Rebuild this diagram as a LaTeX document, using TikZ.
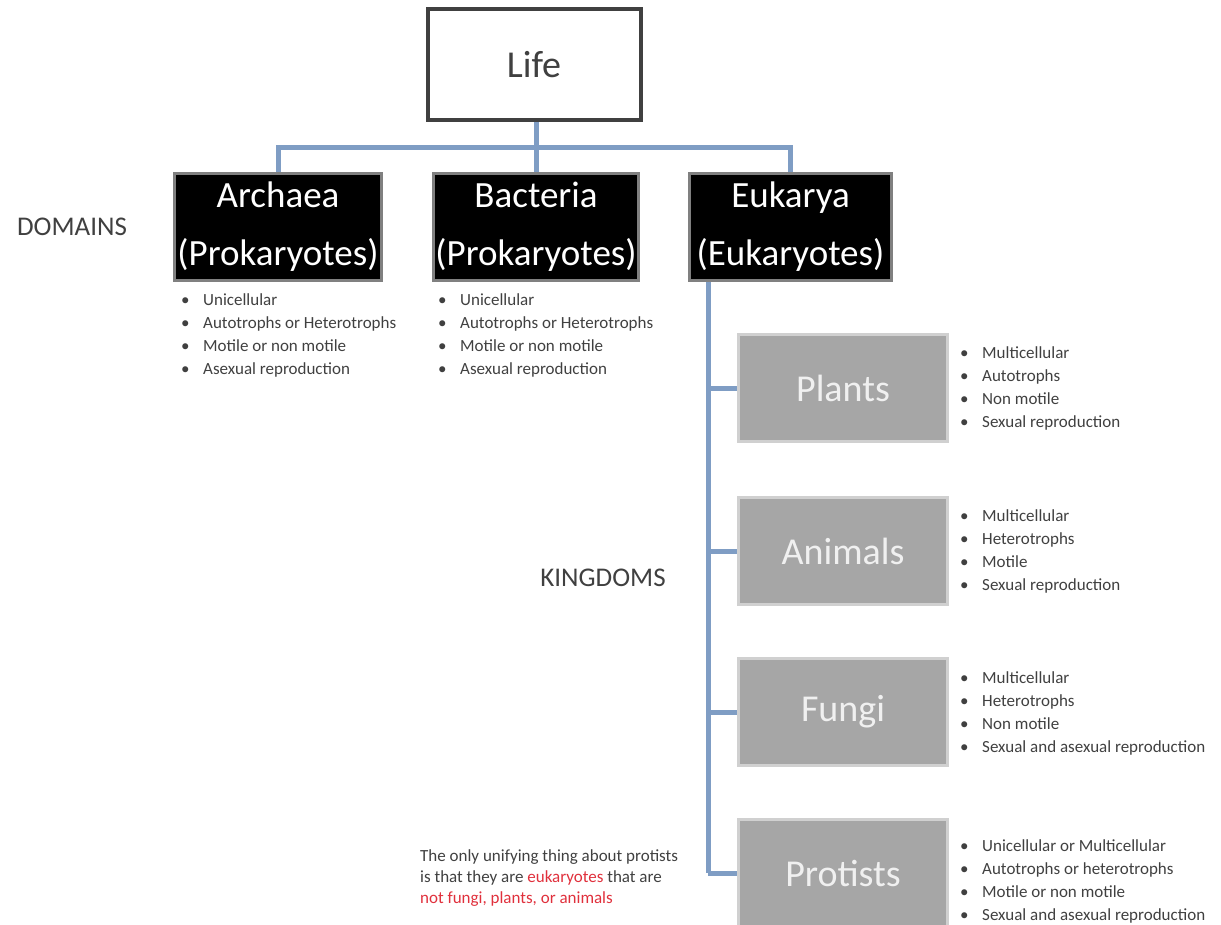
\documentclass[tikz,border=0pt]{standalone}
\usepackage{fontspec}
\setmainfont{Carlito}
\definecolor{conn}{HTML}{7F9DC4}
\definecolor{lifeborder}{HTML}{404040}
\definecolor{kfill}{HTML}{A6A6A6}
\definecolor{kborder}{HTML}{D0D0D0}
\definecolor{dgray}{HTML}{404040}
\definecolor{notered}{HTML}{E0303C}
\newcommand{\bl}{\makebox[22pt][l]{\textbullet}}
\tikzset{
  lifebox/.style={draw=lifeborder, line width=4pt, fill=white, minimum width=213pt, minimum height=111pt, inner sep=0pt, font=\fontsize{38}{40}\selectfont, text=dgray},
  domainbox/.style={draw=gray, line width=3pt, fill=black, text=white, inner sep=0pt, align=center, font=\fontsize{37}{58}\selectfont, minimum height=107pt},
  kingbox/.style={draw=kborder, line width=3pt, fill=kfill, text=white!94!black, inner sep=0pt, minimum width=209pt, minimum height=107pt, font=\fontsize{38}{40}\selectfont},
  connector/.style={draw=conn, line width=5pt},
  bullets/.style={anchor=north west, align=left, inner sep=0pt, text=dgray, font=\fontsize{17}{23}\selectfont},
  tag/.style={inner sep=0pt, text=dgray, font=\fontsize{27}{29}\selectfont},
  note/.style={anchor=north west, align=left, inner sep=0pt, text=dgray, font=\fontsize{17}{21}\selectfont}
}
\begin{document}
\begin{tikzpicture}[x=1pt,y=-1pt]
\useasboundingbox (0,0) rectangle (1221,924);
% nodes
\node[lifebox] (life) at (534,64.5) {Life};
\node[domainbox, minimum width=207pt] (archaea) at (278,227) {Archaea\\(Prokaryotes)};
\node[domainbox, minimum width=205pt] (bacteria) at (536,227) {Bacteria\\(Prokaryotes)};
\node[domainbox, minimum width=202pt] (eukarya) at (790.5,227) {Eukarya\\(Eukaryotes)};
\node[kingbox] (plants) at (843,388) {Plants};
\node[kingbox] (animals) at (843,551) {Animals};
\node[kingbox] (fungi) at (843,712) {Fungi};
\node[kingbox] (protists) at (843,873) {Protists};
\node[tag] (domains) at (72,227) {DOMAINS};
\node[tag] (kingdoms) at (603,578) {KINGDOMS};
% lists
\node[bullets] (archlist) at (181,293) {\bl Unicellular\\\bl Autotrophs or Heterotrophs\\\bl Motile or non motile\\\bl Asexual reproduction};
\node[bullets] (baclist) at (438,293) {\bl Unicellular\\\bl Autotrophs or Heterotrophs\\\bl Motile or non motile\\\bl Asexual reproduction};
\node[bullets] (plantlist) at (960,346) {\bl Multicellular\\\bl Autotrophs\\\bl Non motile\\\bl Sexual reproduction};
\node[bullets] (animallist) at (960,509) {\bl Multicellular\\\bl Heterotrophs\\\bl Motile\\\bl Sexual reproduction};
\node[bullets] (fungilist) at (960,671) {\bl Multicellular\\\bl Heterotrophs\\\bl Non motile\\\bl Sexual and asexual reproduction};
\node[bullets] (protlist) at (960,839) {\bl Unicellular or Multicellular\\\bl Autotrophs or heterotrophs\\\bl Motile or non motile\\\bl Sexual and asexual reproduction};
\node[note] (protnote) at (420,849) {The only unifying thing about protists\\is that they are \textcolor{notered}{eukaryotes} that are\\\textcolor{notered}{not fungi, plants, or animals}};
% connectors
\coordinate (bus) at (536,147);
\coordinate (trunk) at (708,282);
\draw[connector] (bacteria.north |- life.south) -- (bacteria.north);
\draw[connector] (archaea.north) -- (archaea.north |- bus) -- (eukarya.north |- bus) -- (eukarya.north);
\draw[connector] (trunk) -- (trunk |- protists.west);
\draw[connector] (trunk |- plants.west) -- (plants.west);
\draw[connector] (trunk |- animals.west) -- (animals.west);
\draw[connector] (trunk |- fungi.west) -- (fungi.west);
\draw[connector] (trunk |- protists.west) -- (protists.west);
\end{tikzpicture}
\end{document}
